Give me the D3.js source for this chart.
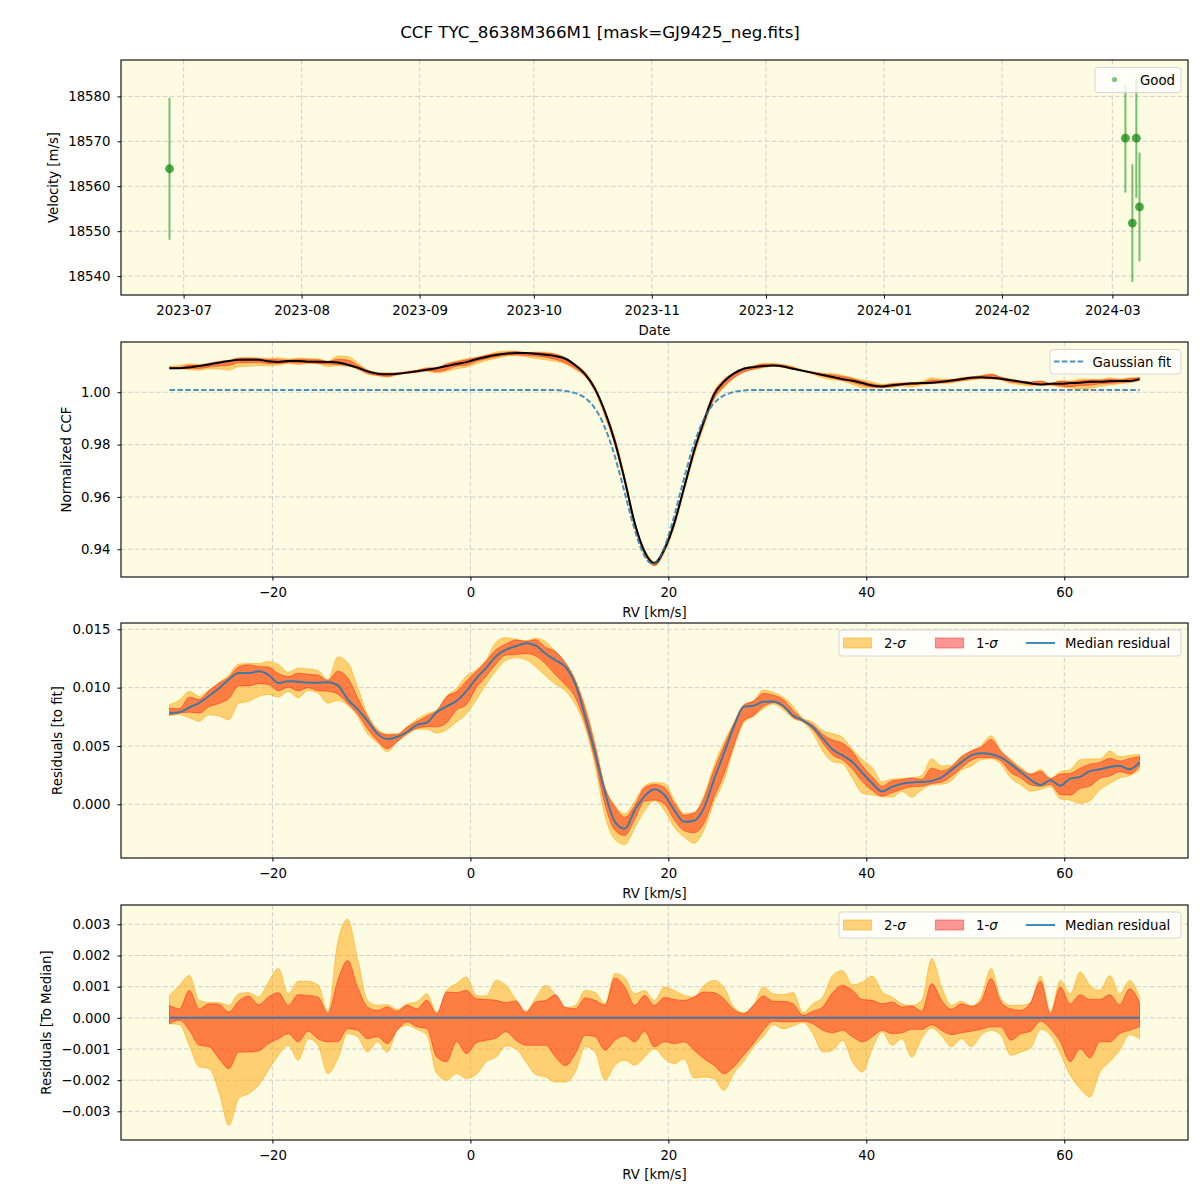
<!DOCTYPE html>
<html>
<head>
<meta charset="utf-8">
<script src="https://cdn.jsdelivr.net/npm/d3@7"></script>
<style>
  body { margin: 0; background: #fff; }
  text { font-family: "DejaVu Sans", sans-serif; fill: #000; }
</style>
</head>
<body>
<div id="chart"></div>
<script>
// ---- RV time series (top panel) ----
const obsDates = ["2023-06-27T07:00", "2024-03-04T10:00", "2024-03-06T06:00", "2024-03-07T07:00", "2024-03-08T03:00"];
const obsVel   = [18563.9, 18570.7, 18551.8, 18570.7, 18555.4];
const obsErr   = [15.8, 12.1, 13.1, 13.3, 12.1];
const velTicks = [18540, 18550, 18560, 18570, 18580];

// ---- CCF grid (km/s) ----
const rvGrid = d3.range(-30.4, 68, 1);
const rvTicks = [-20, 0, 20, 40, 60];

// median normalized CCF
const ccfMedian = [1.0092,1.0092,1.0095,1.0100,1.0106,1.0113,1.0119,1.0124,1.0124,1.0124,
  1.0118,1.0116,1.0119,1.0119,1.0117,1.0117,1.0116,1.0114,1.0105,1.0094,
  1.0080,1.0071,1.0069,1.0071,1.0075,1.0080,1.0086,1.0092,1.0100,1.0108,
  1.0115,1.0126,1.0135,1.0142,1.0147,1.0150,1.0150,1.0147,1.0143,1.0138,
  1.0128,1.0103,1.0068,1.0012,0.9925,0.9810,0.9663,0.9500,0.9390,0.9347,
  0.9400,0.9500,0.9637,0.9776,0.9890,0.9990,1.0040,1.0071,1.0090,1.0096,
  1.0100,1.0102,1.0098,1.0090,1.0082,1.0074,1.0066,1.0058,1.0050,1.0044,
  1.0035,1.0026,1.0022,1.0027,1.0031,1.0033,1.0035,1.0036,1.0040,1.0045,
  1.0050,1.0055,1.0057,1.0055,1.0052,1.0046,1.0040,1.0034,1.0030,1.0032,
  1.0032,1.0035,1.0036,1.0040,1.0040,1.0042,1.0043,1.0043,1.0050];
const ccfTicks = [0.94, 0.96, 0.98, 1.00];

// gaussian fit
const fitRv  = [-30.4, 8.0, 9.4, 10.4, 11.4, 12.4, 13.4, 14.4, 15.4, 16.4, 17.4, 18.4,
  19.4, 20.4, 21.4, 22.4, 23.4, 24.4, 25.4, 26.4, 27.4, 28.8, 67.6];
const fitCcf = [1.0009, 1.0009, 1.0006, 0.9999, 0.9983, 0.9948, 0.9882, 0.9779, 0.9644, 0.9501, 0.9389, 0.9345,
  0.9389, 0.9501, 0.9644, 0.9779, 0.9882, 0.9948, 0.9983, 0.9999, 1.0006, 1.0009, 1.0009];

// median residual to fit (units of 1e-3)
const residMedian = [7.83,7.9,8.3,8.7,9.3,9.95,10.7,11.25,11.25,11.4,
  11.1,10.4,10.55,10.5,10.43,10.41,10.46,10.2,9.0,8.15,
  7.15,6.06,5.6,5.77,6.2,6.8,7.0,7.9,8.4,8.85,
  9.7,10.8,11.7,12.7,13.25,13.55,13.8,13.6,12.9,12.35,
  11.78,10.3,7.5,4.4,1.0,-1.5,-2.09,-0.51,0.7,1.3,
  0.8,-0.5,-1.5,-1.4,-0.3,2.1,4.34,6.6,8.35,8.45,
  8.8,8.82,8.45,7.6,7.2,6.6,5.65,4.7,4.2,3.63,
  2.7,1.8,1.1,1.5,1.77,1.88,1.92,2.0,2.3,2.95,
  3.6,4.2,4.38,4.3,4.0,3.45,2.77,2.1,1.65,2.06,
  1.6,2.2,2.35,2.85,3.0,3.2,3.3,3.0,3.6];
const residTicks = [0.000, 0.005, 0.010, 0.015];

// spread around the median (units of 1e-3)
const up2 = [0.72,1.04,1.36,0.56,0.49,0.49,0.40,0.77,0.81,0.67,
  1.15,1.58,0.77,1.17,1.17,1.06,0.21,2.43,3.16,1.90,
  0.56,0.40,0.43,0.27,0.45,0.51,0.77,0.17,0.88,1.10,
  1.31,0.72,0.70,1.20,1.04,0.59,0.21,0.64,1.04,0.74,
  0.33,0.40,0.88,0.81,0.45,1.42,1.28,0.77,0.88,0.56,
  0.99,0.88,0.72,0.67,1.04,1.20,0.99,0.35,0.17,0.40,
  0.99,0.77,0.74,0.81,0.17,0.45,0.67,1.36,1.52,1.06,
  1.15,1.34,0.83,0.67,0.45,0.40,0.56,1.90,0.99,0.40,
  0.53,0.38,0.67,1.58,0.61,0.40,0.40,0.49,1.34,0.19,
  1.20,0.77,1.47,1.04,0.88,1.36,0.77,1.20,0.67];
const up1 = [0.40,0.29,0.88,0.29,0.45,0.43,0.19,0.54,0.70,0.42,
  0.67,0.81,0.40,0.74,0.72,0.67,0.15,1.20,1.84,0.99,
  0.35,0.24,0.35,0.21,0.40,0.29,0.56,0.13,0.83,0.81,
  0.88,0.61,0.59,0.56,0.49,0.54,0.17,0.51,0.56,0.74,
  0.33,0.29,0.64,0.56,0.40,1.28,0.99,0.40,0.72,0.40,
  0.65,0.59,0.56,0.67,0.83,0.81,0.61,0.27,0.13,0.40,
  0.70,0.53,0.53,0.45,0.08,0.21,0.35,0.81,1.04,0.88,
  0.59,0.56,0.45,0.51,0.35,0.38,0.21,1.10,0.56,0.27,
  0.45,0.37,0.53,1.26,0.51,0.29,0.24,0.49,1.17,0.13,
  0.99,0.45,0.74,0.59,0.59,0.74,0.42,0.93,0.49];
const lo1 = [-0.19,-0.08,-0.40,-0.88,-0.93,-1.31,-1.63,-1.10,-1.10,-1.06,
  -0.83,-0.67,-0.51,-0.77,-0.43,-0.67,-0.77,-0.77,-0.35,-0.40,
  -0.67,-0.61,-0.83,-0.40,-0.13,-0.29,-0.35,-1.26,-1.41,-0.77,
  -1.15,-0.80,-0.72,-0.65,-0.45,-0.72,-0.88,-0.88,-0.88,-1.26,
  -1.54,-1.15,-0.56,-0.61,-1.04,-0.72,-0.58,-0.77,-0.43,-0.93,
  -0.77,-0.83,-0.77,-1.04,-1.31,-1.52,-1.79,-1.58,-1.20,-0.83,
  -0.40,-0.11,-0.13,-0.13,-0.11,-0.19,-0.40,-0.48,-0.40,-0.61,
  -0.77,-0.61,-0.40,-0.51,-0.48,-0.37,-0.37,-0.22,-0.40,-0.54,
  -0.48,-0.43,-0.37,-0.29,-0.29,-0.72,-0.51,-0.43,-0.11,-0.35,
  -0.77,-1.41,-0.99,-1.29,-0.77,-0.77,-0.51,-0.40,-0.29];
const lo2 = [-0.19,-0.22,-0.88,-1.58,-1.63,-2.38,-3.45,-2.59,-2.43,-2.16,
  -1.68,-1.20,-0.88,-1.36,-0.67,-0.88,-1.79,-1.31,-0.51,-0.61,
  -1.10,-0.77,-1.10,-0.40,-0.24,-0.37,-0.56,-1.79,-2.00,-1.79,
  -1.95,-1.82,-1.41,-1.26,-0.90,-0.99,-1.41,-1.82,-1.90,-2.06,
  -2.06,-1.74,-0.93,-1.10,-2.00,-1.52,-1.36,-1.52,-1.26,-0.99,
  -1.31,-1.47,-1.31,-1.93,-1.90,-1.95,-2.33,-1.79,-1.41,-0.93,
  -0.61,-0.22,-0.35,-0.26,-0.15,-0.51,-1.10,-1.04,-0.72,-1.41,
  -1.74,-0.99,-0.45,-0.88,-0.67,-1.26,-0.67,-0.33,-0.58,-0.93,
  -0.67,-0.93,-0.56,-0.40,-0.56,-1.20,-1.10,-0.97,-0.37,-0.56,
  -1.15,-1.84,-2.27,-2.54,-1.74,-1.41,-1.04,-0.54,-0.67];
const spreadTicks = [-0.003, -0.002, -0.001, 0.000, 0.001, 0.002, 0.003];

// ---- layout ----
const width = 1200, height = 1200;
const left = 121, right = 1188;
const bg = "#fdfbe2";
const gridColor = "#cfcfcf";
const col2 = "#ffa500", col1 = "#ff0000", colMed = "#1f77b4";

const svg = d3.select("#chart").append("svg")
  .attr("width", width)
  .attr("height", height);

svg.append("text")
  .attr("x", 600).attr("y", 38)
  .attr("text-anchor", "middle")
  .style("font-size", "16.7px")
  .text("CCF TYC_8638M366M1 [mask=GJ9425_neg.fits]");

const rows = rvGrid.map((rv, i) => ({
  rv: rv,
  ccf: ccfMedian[i],
  med: residMedian[i] * 1e-3,
  u2: up2[i] * 1e-3, u1: up1[i] * 1e-3,
  l1: lo1[i] * 1e-3, l2: lo2[i] * 1e-3
}));

const rvExt = d3.extent(rvGrid);
const rvPad = (rvExt[1] - rvExt[0]) * 0.05;
const xRv = d3.scaleLinear().domain([rvExt[0] - rvPad, rvExt[1] + rvPad]).range([left, right]);

function panel(top, bottom) {
  const g = svg.append("g");
  g.append("rect")
    .attr("x", left).attr("y", top)
    .attr("width", right - left).attr("height", bottom - top)
    .attr("fill", bg);
  return g;
}

function gridAndAxes(g, x, y, xTickVals, yTickVals, xFmt, yFmt, top, bottom) {
  const grid = g.append("g");
  grid.selectAll("line.gx").data(xTickVals).join("line")
    .attr("x1", d => x(d)).attr("x2", d => x(d))
    .attr("y1", top).attr("y2", bottom)
    .attr("stroke", gridColor).attr("stroke-width", 1).attr("stroke-dasharray", "4.5,2.5");
  grid.selectAll("line.gy").data(yTickVals).join("line")
    .attr("x1", left).attr("x2", right)
    .attr("y1", d => y(d)).attr("y2", d => y(d))
    .attr("stroke", gridColor).attr("stroke-width", 1).attr("stroke-dasharray", "4.5,2.5");

  const ax = g.append("g").attr("transform", `translate(0,${bottom})`)
    .call(d3.axisBottom(x).tickValues(xTickVals).tickFormat(xFmt).tickSize(3.5).tickPadding(7.5).tickSizeOuter(0));
  const ay = g.append("g").attr("transform", `translate(${left},0)`)
    .call(d3.axisLeft(y).tickValues(yTickVals).tickFormat(yFmt).tickSize(3.5).tickPadding(7).tickSizeOuter(0));
  [ax, ay].forEach(a => {
    a.select(".domain").remove();
    a.selectAll("text").style("font-size", "13.3px").attr("fill", "#000");
    a.selectAll("line").attr("stroke", "#000");
  });
  ax.selectAll("line").attr("y2", 3.5);
  ay.selectAll("line").attr("x2", -3.5);
  return grid;
}

function border(g, top, bottom) {
  g.append("rect")
    .attr("x", left).attr("y", top)
    .attr("width", right - left).attr("height", bottom - top)
    .attr("fill", "none").attr("stroke", "#000").attr("stroke-width", 1.1);
}

function labels(g, top, bottom, xText, yText, yLabelX, xLabelY) {
  g.append("text")
    .attr("x", (left + right) / 2).attr("y", xLabelY)
    .attr("text-anchor", "middle")
    .style("font-size", "13.3px")
    .text(xText);
  g.append("text")
    .attr("transform", `translate(${yLabelX},${(top + bottom) / 2}) rotate(-90)`)
    .attr("text-anchor", "middle")
    .attr("dominant-baseline", "central")
    .style("font-size", "13.3px")
    .text(yText);
}

function legendBox(g, x0, y0, x1, y1) {
  g.append("rect")
    .attr("x", x0).attr("y", y0)
    .attr("width", x1 - x0).attr("height", y1 - y0)
    .attr("rx", 3)
    .attr("fill", "#fff").attr("fill-opacity", 0.8)
    .attr("stroke", "#d6d6d6").attr("stroke-width", 1);
}

function sigmaText(g, x, y, n) {
  const t = g.append("text").attr("x", x).attr("y", y).style("font-size", "13.3px");
  t.append("tspan").text(n + "-");
  t.append("tspan").style("font-style", "italic").text("σ");
}

function bandLegend(g, yTop) {
  const yc = yTop + 13;
  legendBox(g, 839, yTop, 1181, yTop + 26);
  g.append("rect").attr("x", 843.5).attr("y", yc - 5).attr("width", 28).attr("height", 10)
    .attr("fill", col2).attr("fill-opacity", 0.5).attr("stroke", col2).attr("stroke-opacity", 0.5);
  sigmaText(g, 884, yc + 5, 2);
  g.append("rect").attr("x", 935.5).attr("y", yc - 5).attr("width", 28).attr("height", 10)
    .attr("fill", col1).attr("fill-opacity", 0.4).attr("stroke", col1).attr("stroke-opacity", 0.4);
  sigmaText(g, 976, yc + 5, 1);
  g.append("line").attr("x1", 1026).attr("x2", 1055).attr("y1", yc).attr("y2", yc)
    .attr("stroke", colMed).attr("stroke-opacity", 0.85).attr("stroke-width", 2);
  g.append("text").attr("x", 1065).attr("y", yc + 5).style("font-size", "13.3px").text("Median residual");
}

function bands(g, y, base, up2k, lo2k, up1k, lo1k) {
  g.append("path").datum(rows)
    .attr("d", d3.area().curve(d3.curveMonotoneX)
      .x(d => xRv(d.rv)).y0(d => y(base(d) + d[lo2k])).y1(d => y(base(d) + d[up2k])))
    .attr("fill", col2).attr("fill-opacity", 0.5)
    .attr("stroke", col2).attr("stroke-opacity", 0.5).attr("stroke-width", 1);
  g.append("path").datum(rows)
    .attr("d", d3.area().curve(d3.curveMonotoneX)
      .x(d => xRv(d.rv)).y0(d => y(base(d) + d[lo1k])).y1(d => y(base(d) + d[up1k])))
    .attr("fill", col1).attr("fill-opacity", 0.4)
    .attr("stroke", col1).attr("stroke-opacity", 0.4).attr("stroke-width", 1);
}

// ---------- panel 1: RV vs date ----------
{
  const top = 60, bottom = 295;
  const g = panel(top, bottom);
  const dates = obsDates.map(s => d3.utcParse("%Y-%m-%dT%H:%M")(s));
  const dExt = d3.extent(dates);
  const dPad = (dExt[1] - dExt[0]) * 0.05;
  const x = d3.scaleUtc()
    .domain([new Date(+dExt[0] - dPad), new Date(+dExt[1] + dPad)])
    .range([left, right]);
  const y = d3.scaleLinear().domain([18535.8, 18588.1]).range([bottom, top]);
  const months = d3.utcMonth.range(x.domain()[0], x.domain()[1]);
  gridAndAxes(g, x, y, months, velTicks, d3.utcFormat("%Y-%m"), d3.format("d"), top, bottom);

  const pts = dates.map((d, i) => ({ d: d, v: obsVel[i], e: obsErr[i] }));
  g.selectAll("line.err").data(pts).join("line")
    .attr("x1", p => x(p.d)).attr("x2", p => x(p.d))
    .attr("y1", p => y(p.v - p.e)).attr("y2", p => y(p.v + p.e))
    .attr("stroke", "#2ca02c").attr("stroke-opacity", 0.65).attr("stroke-width", 2);
  g.selectAll("circle.pt").data(pts).join("circle")
    .attr("cx", p => x(p.d)).attr("cy", p => y(p.v)).attr("r", 4.4)
    .attr("fill", "#138a13").attr("fill-opacity", 0.75);

  border(g, top, bottom);
  labels(g, top, bottom, "Date", "Velocity [m/s]", 53, 335);

  legendBox(g, 1095, 67.5, 1181, 92.5);
  g.append("circle").attr("cx", 1114.5).attr("cy", 79.5).attr("r", 2.6)
    .attr("fill", "#2ca02c").attr("fill-opacity", 0.6);
  g.append("text").attr("x", 1140).attr("y", 84.5).style("font-size", "13.3px").text("Good");
}

// ---------- panel 2: normalized CCF ----------
{
  const top = 342, bottom = 577;
  const g = panel(top, bottom);
  const y = d3.scaleLinear().domain([0.9294, 1.0192]).range([bottom, top]);
  gridAndAxes(g, xRv, y, rvTicks, ccfTicks, d3.format("d"), d3.format(".2f"), top, bottom);

  bands(g, y, d => d.ccf, "u2", "l2", "u1", "l1");
  g.append("path").datum(rows)
    .attr("d", d3.line().curve(d3.curveMonotoneX).x(d => xRv(d.rv)).y(d => y(d.ccf)))
    .attr("fill", "none").attr("stroke", "#000").attr("stroke-width", 2);
  const fit = fitRv.map((r, i) => [r, fitCcf[i]]);
  g.append("path").datum(fit)
    .attr("d", d3.line().curve(d3.curveMonotoneX).x(d => xRv(d[0])).y(d => y(d[1])))
    .attr("fill", "none").attr("stroke", colMed).attr("stroke-opacity", 0.8)
    .attr("stroke-width", 2).attr("stroke-dasharray", "5.5,2.4");

  border(g, top, bottom);
  labels(g, top, bottom, "RV [km/s]", "Normalized CCF", 66, 617);

  legendBox(g, 1050, 349.5, 1181, 374);
  g.append("line").attr("x1", 1054).attr("x2", 1083).attr("y1", 361.5).attr("y2", 361.5)
    .attr("stroke", colMed).attr("stroke-opacity", 0.8).attr("stroke-width", 2).attr("stroke-dasharray", "5.5,2.4");
  g.append("text").attr("x", 1092.5).attr("y", 366.5).style("font-size", "13.3px").text("Gaussian fit");
}

// ---------- panel 3: residuals to fit ----------
{
  const top = 623, bottom = 858;
  const g = panel(top, bottom);
  const y = d3.scaleLinear().domain([-0.0046, 0.01554]).range([bottom, top]);
  gridAndAxes(g, xRv, y, rvTicks, residTicks, d3.format("d"), d3.format(".3f"), top, bottom);

  bands(g, y, d => d.med, "u2", "l2", "u1", "l1");
  g.append("path").datum(rows)
    .attr("d", d3.line().curve(d3.curveMonotoneX).x(d => xRv(d.rv)).y(d => y(d.med)))
    .attr("fill", "none").attr("stroke", colMed).attr("stroke-opacity", 0.85).attr("stroke-width", 2);

  border(g, top, bottom);
  labels(g, top, bottom, "RV [km/s]", "Residuals [to fit]", 57, 898);
  bandLegend(g, 630);
}

// ---------- panel 4: residuals to median ----------
{
  const top = 905, bottom = 1140;
  const g = panel(top, bottom);
  const y = d3.scaleLinear().domain([-0.00392, 0.00362]).range([bottom, top]);
  gridAndAxes(g, xRv, y, rvTicks, spreadTicks, d3.format("d"), d3.format(".3f"), top, bottom);

  bands(g, y, d => 0, "u2", "l2", "u1", "l1");
  g.append("path").datum(rows)
    .attr("d", d3.line().x(d => xRv(d.rv)).y(d => y(0)))
    .attr("fill", "none").attr("stroke", colMed).attr("stroke-opacity", 0.85).attr("stroke-width", 2);

  border(g, top, bottom);
  labels(g, top, bottom, "RV [km/s]", "Residuals [To Median]", 46, 1179);
  bandLegend(g, 912);
}
</script>
</body>
</html>
